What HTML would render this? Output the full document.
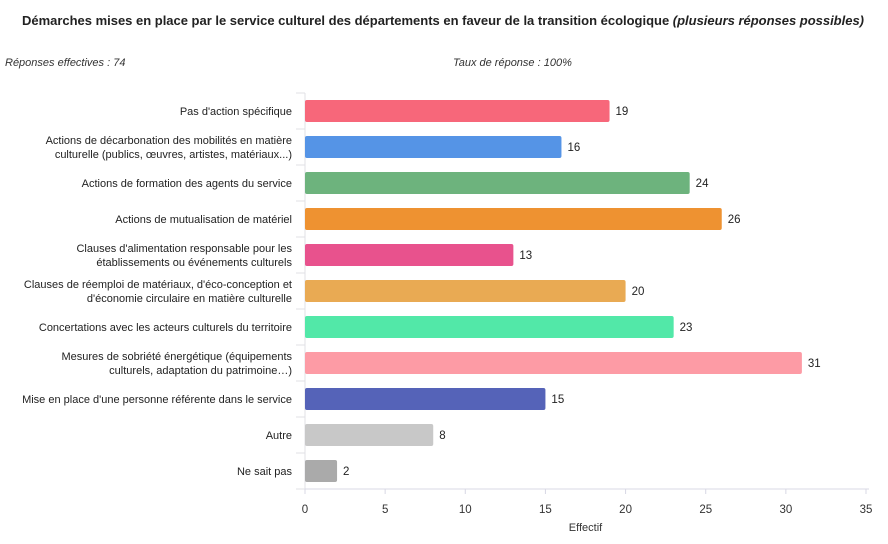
<!DOCTYPE html>
<html><head><meta charset="utf-8"><style>
body{margin:0;background:#fff;font-family:"Liberation Sans",Arial,sans-serif;}
#wrap{position:relative;width:888px;height:544px;overflow:hidden;}
svg text{font-family:"Liberation Sans",Arial,sans-serif;}
</style></head><body>
<div id="wrap">
<svg id="chart" width="888" height="544">
<text x="443" y="25" text-anchor="middle" font-size="13" font-weight="bold" fill="#222" textLength="842">Démarches mises en place par le service culturel des départements en faveur de la transition écologique <tspan font-style="italic">(plusieurs réponses possibles)</tspan></text>
<text x="5" y="66" font-size="11" font-style="italic" fill="#333">Réponses effectives : 74</text>
<text x="453" y="66" font-size="11" font-style="italic" fill="#333">Taux de réponse : 100%</text>
<g id="plot"></g>
</svg>
</div>
<script>
const categories=[["Pas d'action spécifique"],["Actions de décarbonation des mobilités en matière","culturelle (publics, œuvres, artistes, matériaux...)"],["Actions de formation des agents du service"],["Actions de mutualisation de matériel"],["Clauses d'alimentation responsable pour les","établissements ou événements culturels"],["Clauses de réemploi de matériaux, d'éco-conception et","d'économie circulaire en matière culturelle"],["Concertations avec les acteurs culturels du territoire"],["Mesures de sobriété énergétique (équipements","culturels, adaptation du patrimoine…)"],["Mise en place d'une personne référente dans le service"],["Autre"],["Ne sait pas"]];
const values=[19,16,24,26,13,20,23,31,15,8,2];
const colors=["#f7677a","#5594e6","#6db37d","#ee9231","#e8528d","#e9aa53","#52e8a8","#fd9ba5","#5563b8","#c8c8c8","#aaaaaa"];
const ticks=[0,5,10,15,20,25,30,35];
const NS="http://www.w3.org/2000/svg";
const g=document.getElementById('plot');
const x0=305,x1=866,xmax=35,yTop=93,yBot=489;
const band=(yBot-yTop)/categories.length;
const xs=v=>x0+v/xmax*(x1-x0);
const yc=i=>yTop+band*(i+0.5);
function mk(t,a){const e=document.createElementNS(NS,t);for(const k in a)e.setAttribute(k,a[k]);g.appendChild(e);return e;}
let ax=mk('line',{x1:x0,y1:yTop,x2:x0,y2:yBot,stroke:'#e0e0e6'});

let bx=mk('line',{x1:296,y1:yBot,x2:x1+3,y2:yBot,stroke:'#d8d8e4'});

for(let i=0;i<=categories.length;i++){const y=yTop+band*i;let t=mk('line',{x1:296,y1:y,x2:x0,y2:y,stroke:'#e0e0e6'});}
categories.forEach((lines,i)=>{
  const y=yc(i);
  const r=mk('rect',{x:x0,y:y-11,width:xs(values[i])-x0,height:22,rx:2,fill:colors[i]});
  
  
  const v=mk('text',{x:xs(values[i])+6,y:y+4,'font-size':11.5,fill:'#222'});v.textContent=values[i];
  
  
  const n=lines.length;
  lines.forEach((l,j)=>{const t=mk('text',{x:292,y:y+4+(j-(n-1)/2)*14,'text-anchor':'end','font-size':11,fill:'#222'});t.textContent=l;
    
    });
});
ticks.forEach(t=>{const x=xs(t);
  const l=mk('line',{x1:x,y1:yBot,x2:x,y2:yBot+5,stroke:'#d8d8e4'});
  
  
  const tx=mk('text',{x:x,y:513,'text-anchor':'middle','font-size':11.5,fill:'#333'});tx.textContent=t;
  
  });
const xt=mk('text',{x:(x0+x1)/2,y:531,'text-anchor':'middle','font-size':11,fill:'#333'});xt.textContent='Effectif';


</script>
</body></html>
